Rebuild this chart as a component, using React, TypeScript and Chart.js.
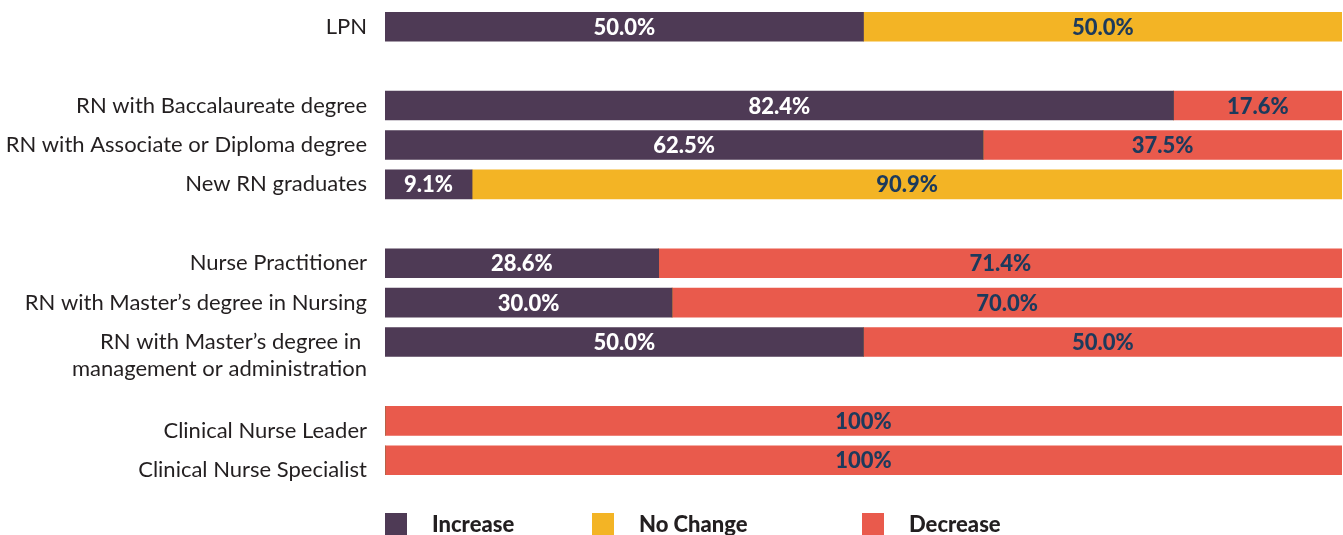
import React, { useEffect, useRef } from "react";
import { Chart, registerables } from "chart.js";

Chart.register(...registerables);

const categories: string[][] = [
  ["LPN"],
  [""],
  ["RN with Baccalaureate degree"],
  ["RN with Associate or Diploma degree"],
  ["New RN graduates"],
  [""],
  ["Nurse Practitioner"],
  ["RN with Master\u2019s degree in Nursing"],
  ["RN with Master\u2019s degree in ", "management or administration"],
  [""],
  ["Clinical Nurse Leader"],
  ["Clinical Nurse Specialist"],
];

const increaseValues = [50.0, null, 82.4, 62.5, 9.1, null, 28.6, 30.0, 50.0, null, 0, 0];
const noChangeValues = [50.0, null, 0, 0, 90.9, null, 0, 0, 0, null, 0, 0];
const decreaseValues = [0, null, 17.6, 37.5, 0, null, 71.4, 70.0, 50.0, null, 100, 100];

const seriesNames = ["Increase", "No Change", "Decrease"];
const seriesColors = ["#4e3a55", "#f3b425", "#e95a4c"];
const labelColors = ["#ffffff", "#1c3a5c", "#1c3a5c"];

const FONT = "Lato, 'Open Sans', sans-serif";

const fmt = (v: number) => (v === 100 ? "100%" : v.toFixed(1) + "%");

// rows whose category label sits lower than the bar centre in the reference layout
const loweredLabelRows = new Set([10, 11]);

const customDraw = {
  id: "customDraw",
  afterDatasetsDraw(chart: any) {
    const ctx = chart.ctx;
    ctx.save();
    chart.data.datasets.forEach((ds: any, di: number) => {
      const meta = chart.getDatasetMeta(di);
      meta.data.forEach((bar: any, i: number) => {
        const v = ds.data[i];
        if (v == null || v === 0) return;
        const { x, base, y } = bar.getProps(["x", "base", "y"], true);
        const cx = (x + base) / 2;
        ctx.font = `900 22px ${FONT}`;
        ctx.fillStyle = labelColors[di];
        ctx.textAlign = "center";
        ctx.textBaseline = "middle";
        ctx.fillText(fmt(v), cx, y + 1);
      });
    });
    const yScale = chart.scales.y;
    ctx.font = `22px ${FONT}`;
    ctx.fillStyle = "#231f20";
    ctx.textAlign = "right";
    ctx.textBaseline = "middle";
    categories.forEach((lines, i) => {
      const y = yScale.getPixelForValue(i) + (loweredLabelRows.has(i) ? 10 : 0);
      lines.forEach((line, li) => {
        ctx.fillText(line, chart.chartArea.left - 18, y + li * 27);
      });
    });
    ctx.restore();
  },
};

export default function App() {
  const canvasRef = useRef<HTMLCanvasElement | null>(null);

  useEffect(() => {
    if (!canvasRef.current) return;
    const values = [increaseValues, noChangeValues, decreaseValues];
    const chart = new Chart(canvasRef.current, {
      type: "bar",
      data: {
        labels: categories.map((c) => c.join(" ")),
        datasets: seriesNames.map((name, i) => ({
          label: name,
          data: values[i],
          backgroundColor: seriesColors[i],
          borderWidth: 0,
          barThickness: 29,
        })),
      },
      options: {
        indexAxis: "y",
        animation: false,
        responsive: false,
        maintainAspectRatio: false,
        layout: { padding: { left: 385, right: 1, top: 7, bottom: 55 } },
        plugins: {
          legend: { display: false },
          tooltip: { enabled: false },
        },
        scales: {
          x: { stacked: true, min: 0, max: 100, display: false },
          y: { stacked: true, display: false },
        },
      },
      plugins: [customDraw],
    });
    return () => chart.destroy();
  }, []);

  const legendX = [385, 592, 862];

  return (
    <div style={{ position: "relative", width: 1343, height: 535, background: "#fff", overflow: "hidden" }}>
      <style>{"html,body{margin:0;padding:0;overflow:hidden;}"}</style>
      <canvas ref={canvasRef} width={1343} height={535} style={{ display: "block", width: 1343, height: 535 }} />
      {seriesNames.map((name, i) => (
        <div
          key={name}
          style={{
            position: "absolute",
            left: legendX[i],
            top: 511,
            height: 26,
            display: "flex",
            alignItems: "center",
            fontFamily: FONT,
            fontWeight: 900,
            fontSize: 22,
            lineHeight: "26px",
            color: "#231f20",
          }}
        >
          <span style={{ display: "inline-block", width: 22, height: 22, background: seriesColors[i], marginRight: 25 }} />
          <span>{name}</span>
        </div>
      ))}
    </div>
  );
}
